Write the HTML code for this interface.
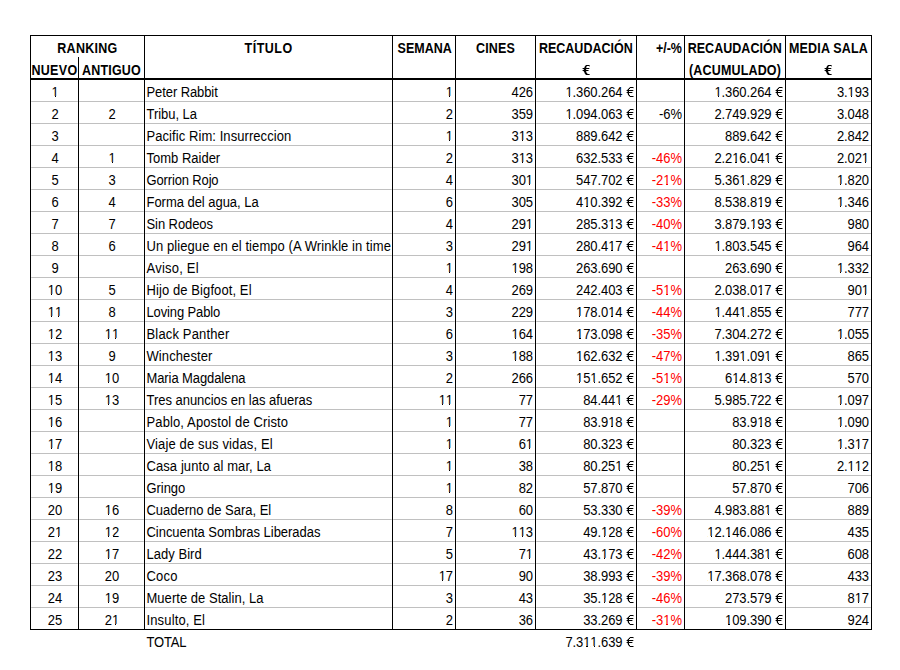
<!DOCTYPE html>
<html><head><meta charset="utf-8"><style>
html,body{margin:0;padding:0;background:#fff;width:900px;height:670px;overflow:hidden}
body{position:relative;font-family:"Liberation Sans",sans-serif;font-size:13px;color:#000}
i{position:absolute;display:block}
i.e,i.eb{width:1px;height:1px;background:transparent}
i.e{box-shadow:3px 0px rgba(0,0,0,0.35),4px 0px rgba(0,0,0,1),5px 0px rgba(0,0,0,1),6px 0px rgba(0,0,0,1),7px 0px rgba(0,0,0,0.5),2px 1px rgba(0,0,0,0.35),3px 1px rgba(0,0,0,1),7px 1px rgba(0,0,0,0.1),1px 2px rgba(0,0,0,0.3),2px 2px rgba(0,0,0,1),0px 3px rgba(0,0,0,0.4),1px 3px rgba(0,0,0,1),2px 3px rgba(0,0,0,1),3px 3px rgba(0,0,0,1),4px 3px rgba(0,0,0,1),5px 3px rgba(0,0,0,1),6px 3px rgba(0,0,0,1),7px 3px rgba(0,0,0,0.3),1px 4px rgba(0,0,0,0.4),2px 4px rgba(0,0,0,1),0px 5px rgba(0,0,0,0.4),1px 5px rgba(0,0,0,1),2px 5px rgba(0,0,0,1),3px 5px rgba(0,0,0,1),4px 5px rgba(0,0,0,1),5px 5px rgba(0,0,0,1),6px 5px rgba(0,0,0,0.4),1px 6px rgba(0,0,0,0.3),2px 6px rgba(0,0,0,1),1px 7px rgba(0,0,0,0.1),2px 7px rgba(0,0,0,1),3px 7px rgba(0,0,0,0.2),2px 8px rgba(0,0,0,0.4),3px 8px rgba(0,0,0,1),3px 9px rgba(0,0,0,0.4),4px 9px rgba(0,0,0,1),5px 9px rgba(0,0,0,1),6px 9px rgba(0,0,0,1),7px 9px rgba(0,0,0,0.5)}
i.eb{box-shadow:3px 0px rgba(0,0,0,0.4),4px 0px rgba(0,0,0,1),5px 0px rgba(0,0,0,1),6px 0px rgba(0,0,0,1),7px 0px rgba(0,0,0,0.6),2px 1px rgba(0,0,0,0.2),3px 1px rgba(0,0,0,1),4px 1px rgba(0,0,0,0.6),7px 1px rgba(0,0,0,0.3),2px 2px rgba(0,0,0,0.6),3px 2px rgba(0,0,0,1),4px 2px rgba(0,0,0,0.3),0px 3px rgba(0,0,0,0.4),1px 3px rgba(0,0,0,1),2px 3px rgba(0,0,0,1),3px 3px rgba(0,0,0,1),4px 3px rgba(0,0,0,1),5px 3px rgba(0,0,0,1),6px 3px rgba(0,0,0,1),7px 3px rgba(0,0,0,0.3),1px 4px rgba(0,0,0,0.2),2px 4px rgba(0,0,0,1),3px 4px rgba(0,0,0,1),4px 4px rgba(0,0,0,0.2),0px 5px rgba(0,0,0,0.4),1px 5px rgba(0,0,0,1),2px 5px rgba(0,0,0,1),3px 5px rgba(0,0,0,1),4px 5px rgba(0,0,0,1),5px 5px rgba(0,0,0,1),6px 5px rgba(0,0,0,0.5),1px 6px rgba(0,0,0,0.2),2px 6px rgba(0,0,0,1),3px 6px rgba(0,0,0,1),4px 6px rgba(0,0,0,0.2),2px 7px rgba(0,0,0,0.6),3px 7px rgba(0,0,0,1),4px 7px rgba(0,0,0,0.5),2px 8px rgba(0,0,0,0.2),3px 8px rgba(0,0,0,1),4px 8px rgba(0,0,0,1),5px 8px rgba(0,0,0,0.3),3px 9px rgba(0,0,0,0.4),4px 9px rgba(0,0,0,1),5px 9px rgba(0,0,0,1),6px 9px rgba(0,0,0,1),7px 9px rgba(0,0,0,0.6)}
b{position:relative;font-weight:normal}
b::before,b::after{content:'';position:absolute;background:#fff;height:1.6px;bottom:2.3px}
b::before{left:0.3px;width:2.97px}
b::after{left:4.42px;width:3.5px}
div{position:absolute;height:22px;line-height:22px;white-space:nowrap;transform:scaleY(1.08);transform-origin:0 15px}
</style></head><body>
<i style="left:31px;top:101px;width:840px;height:1px;background:#c0c0c0"></i>
<i style="left:31px;top:101px;width:1px;height:1px;background:#cdcdcd"></i>
<i style="left:77px;top:101px;width:1px;height:1px;background:#cdcdcd"></i>
<i style="left:79px;top:101px;width:1px;height:1px;background:#cdcdcd"></i>
<i style="left:143px;top:101px;width:1px;height:1px;background:#cdcdcd"></i>
<i style="left:145px;top:101px;width:1px;height:1px;background:#cdcdcd"></i>
<i style="left:391px;top:101px;width:1px;height:1px;background:#cdcdcd"></i>
<i style="left:393px;top:101px;width:1px;height:1px;background:#cdcdcd"></i>
<i style="left:454px;top:101px;width:1px;height:1px;background:#cdcdcd"></i>
<i style="left:456px;top:101px;width:1px;height:1px;background:#cdcdcd"></i>
<i style="left:534px;top:101px;width:1px;height:1px;background:#cdcdcd"></i>
<i style="left:536px;top:101px;width:1px;height:1px;background:#cdcdcd"></i>
<i style="left:635px;top:101px;width:1px;height:1px;background:#cdcdcd"></i>
<i style="left:637px;top:101px;width:1px;height:1px;background:#cdcdcd"></i>
<i style="left:683px;top:101px;width:1px;height:1px;background:#cdcdcd"></i>
<i style="left:685px;top:101px;width:1px;height:1px;background:#cdcdcd"></i>
<i style="left:784px;top:101px;width:1px;height:1px;background:#cdcdcd"></i>
<i style="left:786px;top:101px;width:1px;height:1px;background:#cdcdcd"></i>
<i style="left:870px;top:101px;width:1px;height:1px;background:#cdcdcd"></i>
<i style="left:31px;top:123px;width:840px;height:1px;background:#c0c0c0"></i>
<i style="left:31px;top:123px;width:1px;height:1px;background:#cdcdcd"></i>
<i style="left:77px;top:123px;width:1px;height:1px;background:#cdcdcd"></i>
<i style="left:79px;top:123px;width:1px;height:1px;background:#cdcdcd"></i>
<i style="left:143px;top:123px;width:1px;height:1px;background:#cdcdcd"></i>
<i style="left:145px;top:123px;width:1px;height:1px;background:#cdcdcd"></i>
<i style="left:391px;top:123px;width:1px;height:1px;background:#cdcdcd"></i>
<i style="left:393px;top:123px;width:1px;height:1px;background:#cdcdcd"></i>
<i style="left:454px;top:123px;width:1px;height:1px;background:#cdcdcd"></i>
<i style="left:456px;top:123px;width:1px;height:1px;background:#cdcdcd"></i>
<i style="left:534px;top:123px;width:1px;height:1px;background:#cdcdcd"></i>
<i style="left:536px;top:123px;width:1px;height:1px;background:#cdcdcd"></i>
<i style="left:635px;top:123px;width:1px;height:1px;background:#cdcdcd"></i>
<i style="left:637px;top:123px;width:1px;height:1px;background:#cdcdcd"></i>
<i style="left:683px;top:123px;width:1px;height:1px;background:#cdcdcd"></i>
<i style="left:685px;top:123px;width:1px;height:1px;background:#cdcdcd"></i>
<i style="left:784px;top:123px;width:1px;height:1px;background:#cdcdcd"></i>
<i style="left:786px;top:123px;width:1px;height:1px;background:#cdcdcd"></i>
<i style="left:870px;top:123px;width:1px;height:1px;background:#cdcdcd"></i>
<i style="left:31px;top:145px;width:840px;height:1px;background:#c0c0c0"></i>
<i style="left:31px;top:145px;width:1px;height:1px;background:#cdcdcd"></i>
<i style="left:77px;top:145px;width:1px;height:1px;background:#cdcdcd"></i>
<i style="left:79px;top:145px;width:1px;height:1px;background:#cdcdcd"></i>
<i style="left:143px;top:145px;width:1px;height:1px;background:#cdcdcd"></i>
<i style="left:145px;top:145px;width:1px;height:1px;background:#cdcdcd"></i>
<i style="left:391px;top:145px;width:1px;height:1px;background:#cdcdcd"></i>
<i style="left:393px;top:145px;width:1px;height:1px;background:#cdcdcd"></i>
<i style="left:454px;top:145px;width:1px;height:1px;background:#cdcdcd"></i>
<i style="left:456px;top:145px;width:1px;height:1px;background:#cdcdcd"></i>
<i style="left:534px;top:145px;width:1px;height:1px;background:#cdcdcd"></i>
<i style="left:536px;top:145px;width:1px;height:1px;background:#cdcdcd"></i>
<i style="left:635px;top:145px;width:1px;height:1px;background:#cdcdcd"></i>
<i style="left:637px;top:145px;width:1px;height:1px;background:#cdcdcd"></i>
<i style="left:683px;top:145px;width:1px;height:1px;background:#cdcdcd"></i>
<i style="left:685px;top:145px;width:1px;height:1px;background:#cdcdcd"></i>
<i style="left:784px;top:145px;width:1px;height:1px;background:#cdcdcd"></i>
<i style="left:786px;top:145px;width:1px;height:1px;background:#cdcdcd"></i>
<i style="left:870px;top:145px;width:1px;height:1px;background:#cdcdcd"></i>
<i style="left:31px;top:167px;width:840px;height:1px;background:#c0c0c0"></i>
<i style="left:31px;top:167px;width:1px;height:1px;background:#cdcdcd"></i>
<i style="left:77px;top:167px;width:1px;height:1px;background:#cdcdcd"></i>
<i style="left:79px;top:167px;width:1px;height:1px;background:#cdcdcd"></i>
<i style="left:143px;top:167px;width:1px;height:1px;background:#cdcdcd"></i>
<i style="left:145px;top:167px;width:1px;height:1px;background:#cdcdcd"></i>
<i style="left:391px;top:167px;width:1px;height:1px;background:#cdcdcd"></i>
<i style="left:393px;top:167px;width:1px;height:1px;background:#cdcdcd"></i>
<i style="left:454px;top:167px;width:1px;height:1px;background:#cdcdcd"></i>
<i style="left:456px;top:167px;width:1px;height:1px;background:#cdcdcd"></i>
<i style="left:534px;top:167px;width:1px;height:1px;background:#cdcdcd"></i>
<i style="left:536px;top:167px;width:1px;height:1px;background:#cdcdcd"></i>
<i style="left:635px;top:167px;width:1px;height:1px;background:#cdcdcd"></i>
<i style="left:637px;top:167px;width:1px;height:1px;background:#cdcdcd"></i>
<i style="left:683px;top:167px;width:1px;height:1px;background:#cdcdcd"></i>
<i style="left:685px;top:167px;width:1px;height:1px;background:#cdcdcd"></i>
<i style="left:784px;top:167px;width:1px;height:1px;background:#cdcdcd"></i>
<i style="left:786px;top:167px;width:1px;height:1px;background:#cdcdcd"></i>
<i style="left:870px;top:167px;width:1px;height:1px;background:#cdcdcd"></i>
<i style="left:31px;top:189px;width:840px;height:1px;background:#c0c0c0"></i>
<i style="left:31px;top:189px;width:1px;height:1px;background:#cdcdcd"></i>
<i style="left:77px;top:189px;width:1px;height:1px;background:#cdcdcd"></i>
<i style="left:79px;top:189px;width:1px;height:1px;background:#cdcdcd"></i>
<i style="left:143px;top:189px;width:1px;height:1px;background:#cdcdcd"></i>
<i style="left:145px;top:189px;width:1px;height:1px;background:#cdcdcd"></i>
<i style="left:391px;top:189px;width:1px;height:1px;background:#cdcdcd"></i>
<i style="left:393px;top:189px;width:1px;height:1px;background:#cdcdcd"></i>
<i style="left:454px;top:189px;width:1px;height:1px;background:#cdcdcd"></i>
<i style="left:456px;top:189px;width:1px;height:1px;background:#cdcdcd"></i>
<i style="left:534px;top:189px;width:1px;height:1px;background:#cdcdcd"></i>
<i style="left:536px;top:189px;width:1px;height:1px;background:#cdcdcd"></i>
<i style="left:635px;top:189px;width:1px;height:1px;background:#cdcdcd"></i>
<i style="left:637px;top:189px;width:1px;height:1px;background:#cdcdcd"></i>
<i style="left:683px;top:189px;width:1px;height:1px;background:#cdcdcd"></i>
<i style="left:685px;top:189px;width:1px;height:1px;background:#cdcdcd"></i>
<i style="left:784px;top:189px;width:1px;height:1px;background:#cdcdcd"></i>
<i style="left:786px;top:189px;width:1px;height:1px;background:#cdcdcd"></i>
<i style="left:870px;top:189px;width:1px;height:1px;background:#cdcdcd"></i>
<i style="left:31px;top:211px;width:840px;height:1px;background:#c0c0c0"></i>
<i style="left:31px;top:211px;width:1px;height:1px;background:#cdcdcd"></i>
<i style="left:77px;top:211px;width:1px;height:1px;background:#cdcdcd"></i>
<i style="left:79px;top:211px;width:1px;height:1px;background:#cdcdcd"></i>
<i style="left:143px;top:211px;width:1px;height:1px;background:#cdcdcd"></i>
<i style="left:145px;top:211px;width:1px;height:1px;background:#cdcdcd"></i>
<i style="left:391px;top:211px;width:1px;height:1px;background:#cdcdcd"></i>
<i style="left:393px;top:211px;width:1px;height:1px;background:#cdcdcd"></i>
<i style="left:454px;top:211px;width:1px;height:1px;background:#cdcdcd"></i>
<i style="left:456px;top:211px;width:1px;height:1px;background:#cdcdcd"></i>
<i style="left:534px;top:211px;width:1px;height:1px;background:#cdcdcd"></i>
<i style="left:536px;top:211px;width:1px;height:1px;background:#cdcdcd"></i>
<i style="left:635px;top:211px;width:1px;height:1px;background:#cdcdcd"></i>
<i style="left:637px;top:211px;width:1px;height:1px;background:#cdcdcd"></i>
<i style="left:683px;top:211px;width:1px;height:1px;background:#cdcdcd"></i>
<i style="left:685px;top:211px;width:1px;height:1px;background:#cdcdcd"></i>
<i style="left:784px;top:211px;width:1px;height:1px;background:#cdcdcd"></i>
<i style="left:786px;top:211px;width:1px;height:1px;background:#cdcdcd"></i>
<i style="left:870px;top:211px;width:1px;height:1px;background:#cdcdcd"></i>
<i style="left:31px;top:233px;width:840px;height:1px;background:#c0c0c0"></i>
<i style="left:31px;top:233px;width:1px;height:1px;background:#cdcdcd"></i>
<i style="left:77px;top:233px;width:1px;height:1px;background:#cdcdcd"></i>
<i style="left:79px;top:233px;width:1px;height:1px;background:#cdcdcd"></i>
<i style="left:143px;top:233px;width:1px;height:1px;background:#cdcdcd"></i>
<i style="left:145px;top:233px;width:1px;height:1px;background:#cdcdcd"></i>
<i style="left:391px;top:233px;width:1px;height:1px;background:#cdcdcd"></i>
<i style="left:393px;top:233px;width:1px;height:1px;background:#cdcdcd"></i>
<i style="left:454px;top:233px;width:1px;height:1px;background:#cdcdcd"></i>
<i style="left:456px;top:233px;width:1px;height:1px;background:#cdcdcd"></i>
<i style="left:534px;top:233px;width:1px;height:1px;background:#cdcdcd"></i>
<i style="left:536px;top:233px;width:1px;height:1px;background:#cdcdcd"></i>
<i style="left:635px;top:233px;width:1px;height:1px;background:#cdcdcd"></i>
<i style="left:637px;top:233px;width:1px;height:1px;background:#cdcdcd"></i>
<i style="left:683px;top:233px;width:1px;height:1px;background:#cdcdcd"></i>
<i style="left:685px;top:233px;width:1px;height:1px;background:#cdcdcd"></i>
<i style="left:784px;top:233px;width:1px;height:1px;background:#cdcdcd"></i>
<i style="left:786px;top:233px;width:1px;height:1px;background:#cdcdcd"></i>
<i style="left:870px;top:233px;width:1px;height:1px;background:#cdcdcd"></i>
<i style="left:31px;top:255px;width:840px;height:1px;background:#c0c0c0"></i>
<i style="left:31px;top:255px;width:1px;height:1px;background:#cdcdcd"></i>
<i style="left:77px;top:255px;width:1px;height:1px;background:#cdcdcd"></i>
<i style="left:79px;top:255px;width:1px;height:1px;background:#cdcdcd"></i>
<i style="left:143px;top:255px;width:1px;height:1px;background:#cdcdcd"></i>
<i style="left:145px;top:255px;width:1px;height:1px;background:#cdcdcd"></i>
<i style="left:391px;top:255px;width:1px;height:1px;background:#cdcdcd"></i>
<i style="left:393px;top:255px;width:1px;height:1px;background:#cdcdcd"></i>
<i style="left:454px;top:255px;width:1px;height:1px;background:#cdcdcd"></i>
<i style="left:456px;top:255px;width:1px;height:1px;background:#cdcdcd"></i>
<i style="left:534px;top:255px;width:1px;height:1px;background:#cdcdcd"></i>
<i style="left:536px;top:255px;width:1px;height:1px;background:#cdcdcd"></i>
<i style="left:635px;top:255px;width:1px;height:1px;background:#cdcdcd"></i>
<i style="left:637px;top:255px;width:1px;height:1px;background:#cdcdcd"></i>
<i style="left:683px;top:255px;width:1px;height:1px;background:#cdcdcd"></i>
<i style="left:685px;top:255px;width:1px;height:1px;background:#cdcdcd"></i>
<i style="left:784px;top:255px;width:1px;height:1px;background:#cdcdcd"></i>
<i style="left:786px;top:255px;width:1px;height:1px;background:#cdcdcd"></i>
<i style="left:870px;top:255px;width:1px;height:1px;background:#cdcdcd"></i>
<i style="left:31px;top:277px;width:840px;height:1px;background:#c0c0c0"></i>
<i style="left:31px;top:277px;width:1px;height:1px;background:#cdcdcd"></i>
<i style="left:77px;top:277px;width:1px;height:1px;background:#cdcdcd"></i>
<i style="left:79px;top:277px;width:1px;height:1px;background:#cdcdcd"></i>
<i style="left:143px;top:277px;width:1px;height:1px;background:#cdcdcd"></i>
<i style="left:145px;top:277px;width:1px;height:1px;background:#cdcdcd"></i>
<i style="left:391px;top:277px;width:1px;height:1px;background:#cdcdcd"></i>
<i style="left:393px;top:277px;width:1px;height:1px;background:#cdcdcd"></i>
<i style="left:454px;top:277px;width:1px;height:1px;background:#cdcdcd"></i>
<i style="left:456px;top:277px;width:1px;height:1px;background:#cdcdcd"></i>
<i style="left:534px;top:277px;width:1px;height:1px;background:#cdcdcd"></i>
<i style="left:536px;top:277px;width:1px;height:1px;background:#cdcdcd"></i>
<i style="left:635px;top:277px;width:1px;height:1px;background:#cdcdcd"></i>
<i style="left:637px;top:277px;width:1px;height:1px;background:#cdcdcd"></i>
<i style="left:683px;top:277px;width:1px;height:1px;background:#cdcdcd"></i>
<i style="left:685px;top:277px;width:1px;height:1px;background:#cdcdcd"></i>
<i style="left:784px;top:277px;width:1px;height:1px;background:#cdcdcd"></i>
<i style="left:786px;top:277px;width:1px;height:1px;background:#cdcdcd"></i>
<i style="left:870px;top:277px;width:1px;height:1px;background:#cdcdcd"></i>
<i style="left:31px;top:299px;width:840px;height:1px;background:#c0c0c0"></i>
<i style="left:31px;top:299px;width:1px;height:1px;background:#cdcdcd"></i>
<i style="left:77px;top:299px;width:1px;height:1px;background:#cdcdcd"></i>
<i style="left:79px;top:299px;width:1px;height:1px;background:#cdcdcd"></i>
<i style="left:143px;top:299px;width:1px;height:1px;background:#cdcdcd"></i>
<i style="left:145px;top:299px;width:1px;height:1px;background:#cdcdcd"></i>
<i style="left:391px;top:299px;width:1px;height:1px;background:#cdcdcd"></i>
<i style="left:393px;top:299px;width:1px;height:1px;background:#cdcdcd"></i>
<i style="left:454px;top:299px;width:1px;height:1px;background:#cdcdcd"></i>
<i style="left:456px;top:299px;width:1px;height:1px;background:#cdcdcd"></i>
<i style="left:534px;top:299px;width:1px;height:1px;background:#cdcdcd"></i>
<i style="left:536px;top:299px;width:1px;height:1px;background:#cdcdcd"></i>
<i style="left:635px;top:299px;width:1px;height:1px;background:#cdcdcd"></i>
<i style="left:637px;top:299px;width:1px;height:1px;background:#cdcdcd"></i>
<i style="left:683px;top:299px;width:1px;height:1px;background:#cdcdcd"></i>
<i style="left:685px;top:299px;width:1px;height:1px;background:#cdcdcd"></i>
<i style="left:784px;top:299px;width:1px;height:1px;background:#cdcdcd"></i>
<i style="left:786px;top:299px;width:1px;height:1px;background:#cdcdcd"></i>
<i style="left:870px;top:299px;width:1px;height:1px;background:#cdcdcd"></i>
<i style="left:31px;top:321px;width:840px;height:1px;background:#c0c0c0"></i>
<i style="left:31px;top:321px;width:1px;height:1px;background:#cdcdcd"></i>
<i style="left:77px;top:321px;width:1px;height:1px;background:#cdcdcd"></i>
<i style="left:79px;top:321px;width:1px;height:1px;background:#cdcdcd"></i>
<i style="left:143px;top:321px;width:1px;height:1px;background:#cdcdcd"></i>
<i style="left:145px;top:321px;width:1px;height:1px;background:#cdcdcd"></i>
<i style="left:391px;top:321px;width:1px;height:1px;background:#cdcdcd"></i>
<i style="left:393px;top:321px;width:1px;height:1px;background:#cdcdcd"></i>
<i style="left:454px;top:321px;width:1px;height:1px;background:#cdcdcd"></i>
<i style="left:456px;top:321px;width:1px;height:1px;background:#cdcdcd"></i>
<i style="left:534px;top:321px;width:1px;height:1px;background:#cdcdcd"></i>
<i style="left:536px;top:321px;width:1px;height:1px;background:#cdcdcd"></i>
<i style="left:635px;top:321px;width:1px;height:1px;background:#cdcdcd"></i>
<i style="left:637px;top:321px;width:1px;height:1px;background:#cdcdcd"></i>
<i style="left:683px;top:321px;width:1px;height:1px;background:#cdcdcd"></i>
<i style="left:685px;top:321px;width:1px;height:1px;background:#cdcdcd"></i>
<i style="left:784px;top:321px;width:1px;height:1px;background:#cdcdcd"></i>
<i style="left:786px;top:321px;width:1px;height:1px;background:#cdcdcd"></i>
<i style="left:870px;top:321px;width:1px;height:1px;background:#cdcdcd"></i>
<i style="left:31px;top:343px;width:840px;height:1px;background:#c0c0c0"></i>
<i style="left:31px;top:343px;width:1px;height:1px;background:#cdcdcd"></i>
<i style="left:77px;top:343px;width:1px;height:1px;background:#cdcdcd"></i>
<i style="left:79px;top:343px;width:1px;height:1px;background:#cdcdcd"></i>
<i style="left:143px;top:343px;width:1px;height:1px;background:#cdcdcd"></i>
<i style="left:145px;top:343px;width:1px;height:1px;background:#cdcdcd"></i>
<i style="left:391px;top:343px;width:1px;height:1px;background:#cdcdcd"></i>
<i style="left:393px;top:343px;width:1px;height:1px;background:#cdcdcd"></i>
<i style="left:454px;top:343px;width:1px;height:1px;background:#cdcdcd"></i>
<i style="left:456px;top:343px;width:1px;height:1px;background:#cdcdcd"></i>
<i style="left:534px;top:343px;width:1px;height:1px;background:#cdcdcd"></i>
<i style="left:536px;top:343px;width:1px;height:1px;background:#cdcdcd"></i>
<i style="left:635px;top:343px;width:1px;height:1px;background:#cdcdcd"></i>
<i style="left:637px;top:343px;width:1px;height:1px;background:#cdcdcd"></i>
<i style="left:683px;top:343px;width:1px;height:1px;background:#cdcdcd"></i>
<i style="left:685px;top:343px;width:1px;height:1px;background:#cdcdcd"></i>
<i style="left:784px;top:343px;width:1px;height:1px;background:#cdcdcd"></i>
<i style="left:786px;top:343px;width:1px;height:1px;background:#cdcdcd"></i>
<i style="left:870px;top:343px;width:1px;height:1px;background:#cdcdcd"></i>
<i style="left:31px;top:365px;width:840px;height:1px;background:#c0c0c0"></i>
<i style="left:31px;top:365px;width:1px;height:1px;background:#cdcdcd"></i>
<i style="left:77px;top:365px;width:1px;height:1px;background:#cdcdcd"></i>
<i style="left:79px;top:365px;width:1px;height:1px;background:#cdcdcd"></i>
<i style="left:143px;top:365px;width:1px;height:1px;background:#cdcdcd"></i>
<i style="left:145px;top:365px;width:1px;height:1px;background:#cdcdcd"></i>
<i style="left:391px;top:365px;width:1px;height:1px;background:#cdcdcd"></i>
<i style="left:393px;top:365px;width:1px;height:1px;background:#cdcdcd"></i>
<i style="left:454px;top:365px;width:1px;height:1px;background:#cdcdcd"></i>
<i style="left:456px;top:365px;width:1px;height:1px;background:#cdcdcd"></i>
<i style="left:534px;top:365px;width:1px;height:1px;background:#cdcdcd"></i>
<i style="left:536px;top:365px;width:1px;height:1px;background:#cdcdcd"></i>
<i style="left:635px;top:365px;width:1px;height:1px;background:#cdcdcd"></i>
<i style="left:637px;top:365px;width:1px;height:1px;background:#cdcdcd"></i>
<i style="left:683px;top:365px;width:1px;height:1px;background:#cdcdcd"></i>
<i style="left:685px;top:365px;width:1px;height:1px;background:#cdcdcd"></i>
<i style="left:784px;top:365px;width:1px;height:1px;background:#cdcdcd"></i>
<i style="left:786px;top:365px;width:1px;height:1px;background:#cdcdcd"></i>
<i style="left:870px;top:365px;width:1px;height:1px;background:#cdcdcd"></i>
<i style="left:31px;top:387px;width:840px;height:1px;background:#c0c0c0"></i>
<i style="left:31px;top:387px;width:1px;height:1px;background:#cdcdcd"></i>
<i style="left:77px;top:387px;width:1px;height:1px;background:#cdcdcd"></i>
<i style="left:79px;top:387px;width:1px;height:1px;background:#cdcdcd"></i>
<i style="left:143px;top:387px;width:1px;height:1px;background:#cdcdcd"></i>
<i style="left:145px;top:387px;width:1px;height:1px;background:#cdcdcd"></i>
<i style="left:391px;top:387px;width:1px;height:1px;background:#cdcdcd"></i>
<i style="left:393px;top:387px;width:1px;height:1px;background:#cdcdcd"></i>
<i style="left:454px;top:387px;width:1px;height:1px;background:#cdcdcd"></i>
<i style="left:456px;top:387px;width:1px;height:1px;background:#cdcdcd"></i>
<i style="left:534px;top:387px;width:1px;height:1px;background:#cdcdcd"></i>
<i style="left:536px;top:387px;width:1px;height:1px;background:#cdcdcd"></i>
<i style="left:635px;top:387px;width:1px;height:1px;background:#cdcdcd"></i>
<i style="left:637px;top:387px;width:1px;height:1px;background:#cdcdcd"></i>
<i style="left:683px;top:387px;width:1px;height:1px;background:#cdcdcd"></i>
<i style="left:685px;top:387px;width:1px;height:1px;background:#cdcdcd"></i>
<i style="left:784px;top:387px;width:1px;height:1px;background:#cdcdcd"></i>
<i style="left:786px;top:387px;width:1px;height:1px;background:#cdcdcd"></i>
<i style="left:870px;top:387px;width:1px;height:1px;background:#cdcdcd"></i>
<i style="left:31px;top:409px;width:840px;height:1px;background:#c0c0c0"></i>
<i style="left:31px;top:409px;width:1px;height:1px;background:#cdcdcd"></i>
<i style="left:77px;top:409px;width:1px;height:1px;background:#cdcdcd"></i>
<i style="left:79px;top:409px;width:1px;height:1px;background:#cdcdcd"></i>
<i style="left:143px;top:409px;width:1px;height:1px;background:#cdcdcd"></i>
<i style="left:145px;top:409px;width:1px;height:1px;background:#cdcdcd"></i>
<i style="left:391px;top:409px;width:1px;height:1px;background:#cdcdcd"></i>
<i style="left:393px;top:409px;width:1px;height:1px;background:#cdcdcd"></i>
<i style="left:454px;top:409px;width:1px;height:1px;background:#cdcdcd"></i>
<i style="left:456px;top:409px;width:1px;height:1px;background:#cdcdcd"></i>
<i style="left:534px;top:409px;width:1px;height:1px;background:#cdcdcd"></i>
<i style="left:536px;top:409px;width:1px;height:1px;background:#cdcdcd"></i>
<i style="left:635px;top:409px;width:1px;height:1px;background:#cdcdcd"></i>
<i style="left:637px;top:409px;width:1px;height:1px;background:#cdcdcd"></i>
<i style="left:683px;top:409px;width:1px;height:1px;background:#cdcdcd"></i>
<i style="left:685px;top:409px;width:1px;height:1px;background:#cdcdcd"></i>
<i style="left:784px;top:409px;width:1px;height:1px;background:#cdcdcd"></i>
<i style="left:786px;top:409px;width:1px;height:1px;background:#cdcdcd"></i>
<i style="left:870px;top:409px;width:1px;height:1px;background:#cdcdcd"></i>
<i style="left:31px;top:431px;width:840px;height:1px;background:#c0c0c0"></i>
<i style="left:31px;top:431px;width:1px;height:1px;background:#cdcdcd"></i>
<i style="left:77px;top:431px;width:1px;height:1px;background:#cdcdcd"></i>
<i style="left:79px;top:431px;width:1px;height:1px;background:#cdcdcd"></i>
<i style="left:143px;top:431px;width:1px;height:1px;background:#cdcdcd"></i>
<i style="left:145px;top:431px;width:1px;height:1px;background:#cdcdcd"></i>
<i style="left:391px;top:431px;width:1px;height:1px;background:#cdcdcd"></i>
<i style="left:393px;top:431px;width:1px;height:1px;background:#cdcdcd"></i>
<i style="left:454px;top:431px;width:1px;height:1px;background:#cdcdcd"></i>
<i style="left:456px;top:431px;width:1px;height:1px;background:#cdcdcd"></i>
<i style="left:534px;top:431px;width:1px;height:1px;background:#cdcdcd"></i>
<i style="left:536px;top:431px;width:1px;height:1px;background:#cdcdcd"></i>
<i style="left:635px;top:431px;width:1px;height:1px;background:#cdcdcd"></i>
<i style="left:637px;top:431px;width:1px;height:1px;background:#cdcdcd"></i>
<i style="left:683px;top:431px;width:1px;height:1px;background:#cdcdcd"></i>
<i style="left:685px;top:431px;width:1px;height:1px;background:#cdcdcd"></i>
<i style="left:784px;top:431px;width:1px;height:1px;background:#cdcdcd"></i>
<i style="left:786px;top:431px;width:1px;height:1px;background:#cdcdcd"></i>
<i style="left:870px;top:431px;width:1px;height:1px;background:#cdcdcd"></i>
<i style="left:31px;top:453px;width:840px;height:1px;background:#c0c0c0"></i>
<i style="left:31px;top:453px;width:1px;height:1px;background:#cdcdcd"></i>
<i style="left:77px;top:453px;width:1px;height:1px;background:#cdcdcd"></i>
<i style="left:79px;top:453px;width:1px;height:1px;background:#cdcdcd"></i>
<i style="left:143px;top:453px;width:1px;height:1px;background:#cdcdcd"></i>
<i style="left:145px;top:453px;width:1px;height:1px;background:#cdcdcd"></i>
<i style="left:391px;top:453px;width:1px;height:1px;background:#cdcdcd"></i>
<i style="left:393px;top:453px;width:1px;height:1px;background:#cdcdcd"></i>
<i style="left:454px;top:453px;width:1px;height:1px;background:#cdcdcd"></i>
<i style="left:456px;top:453px;width:1px;height:1px;background:#cdcdcd"></i>
<i style="left:534px;top:453px;width:1px;height:1px;background:#cdcdcd"></i>
<i style="left:536px;top:453px;width:1px;height:1px;background:#cdcdcd"></i>
<i style="left:635px;top:453px;width:1px;height:1px;background:#cdcdcd"></i>
<i style="left:637px;top:453px;width:1px;height:1px;background:#cdcdcd"></i>
<i style="left:683px;top:453px;width:1px;height:1px;background:#cdcdcd"></i>
<i style="left:685px;top:453px;width:1px;height:1px;background:#cdcdcd"></i>
<i style="left:784px;top:453px;width:1px;height:1px;background:#cdcdcd"></i>
<i style="left:786px;top:453px;width:1px;height:1px;background:#cdcdcd"></i>
<i style="left:870px;top:453px;width:1px;height:1px;background:#cdcdcd"></i>
<i style="left:31px;top:475px;width:840px;height:1px;background:#c0c0c0"></i>
<i style="left:31px;top:475px;width:1px;height:1px;background:#cdcdcd"></i>
<i style="left:77px;top:475px;width:1px;height:1px;background:#cdcdcd"></i>
<i style="left:79px;top:475px;width:1px;height:1px;background:#cdcdcd"></i>
<i style="left:143px;top:475px;width:1px;height:1px;background:#cdcdcd"></i>
<i style="left:145px;top:475px;width:1px;height:1px;background:#cdcdcd"></i>
<i style="left:391px;top:475px;width:1px;height:1px;background:#cdcdcd"></i>
<i style="left:393px;top:475px;width:1px;height:1px;background:#cdcdcd"></i>
<i style="left:454px;top:475px;width:1px;height:1px;background:#cdcdcd"></i>
<i style="left:456px;top:475px;width:1px;height:1px;background:#cdcdcd"></i>
<i style="left:534px;top:475px;width:1px;height:1px;background:#cdcdcd"></i>
<i style="left:536px;top:475px;width:1px;height:1px;background:#cdcdcd"></i>
<i style="left:635px;top:475px;width:1px;height:1px;background:#cdcdcd"></i>
<i style="left:637px;top:475px;width:1px;height:1px;background:#cdcdcd"></i>
<i style="left:683px;top:475px;width:1px;height:1px;background:#cdcdcd"></i>
<i style="left:685px;top:475px;width:1px;height:1px;background:#cdcdcd"></i>
<i style="left:784px;top:475px;width:1px;height:1px;background:#cdcdcd"></i>
<i style="left:786px;top:475px;width:1px;height:1px;background:#cdcdcd"></i>
<i style="left:870px;top:475px;width:1px;height:1px;background:#cdcdcd"></i>
<i style="left:31px;top:497px;width:840px;height:1px;background:#c0c0c0"></i>
<i style="left:31px;top:497px;width:1px;height:1px;background:#cdcdcd"></i>
<i style="left:77px;top:497px;width:1px;height:1px;background:#cdcdcd"></i>
<i style="left:79px;top:497px;width:1px;height:1px;background:#cdcdcd"></i>
<i style="left:143px;top:497px;width:1px;height:1px;background:#cdcdcd"></i>
<i style="left:145px;top:497px;width:1px;height:1px;background:#cdcdcd"></i>
<i style="left:391px;top:497px;width:1px;height:1px;background:#cdcdcd"></i>
<i style="left:393px;top:497px;width:1px;height:1px;background:#cdcdcd"></i>
<i style="left:454px;top:497px;width:1px;height:1px;background:#cdcdcd"></i>
<i style="left:456px;top:497px;width:1px;height:1px;background:#cdcdcd"></i>
<i style="left:534px;top:497px;width:1px;height:1px;background:#cdcdcd"></i>
<i style="left:536px;top:497px;width:1px;height:1px;background:#cdcdcd"></i>
<i style="left:635px;top:497px;width:1px;height:1px;background:#cdcdcd"></i>
<i style="left:637px;top:497px;width:1px;height:1px;background:#cdcdcd"></i>
<i style="left:683px;top:497px;width:1px;height:1px;background:#cdcdcd"></i>
<i style="left:685px;top:497px;width:1px;height:1px;background:#cdcdcd"></i>
<i style="left:784px;top:497px;width:1px;height:1px;background:#cdcdcd"></i>
<i style="left:786px;top:497px;width:1px;height:1px;background:#cdcdcd"></i>
<i style="left:870px;top:497px;width:1px;height:1px;background:#cdcdcd"></i>
<i style="left:31px;top:519px;width:840px;height:1px;background:#c0c0c0"></i>
<i style="left:31px;top:519px;width:1px;height:1px;background:#cdcdcd"></i>
<i style="left:77px;top:519px;width:1px;height:1px;background:#cdcdcd"></i>
<i style="left:79px;top:519px;width:1px;height:1px;background:#cdcdcd"></i>
<i style="left:143px;top:519px;width:1px;height:1px;background:#cdcdcd"></i>
<i style="left:145px;top:519px;width:1px;height:1px;background:#cdcdcd"></i>
<i style="left:391px;top:519px;width:1px;height:1px;background:#cdcdcd"></i>
<i style="left:393px;top:519px;width:1px;height:1px;background:#cdcdcd"></i>
<i style="left:454px;top:519px;width:1px;height:1px;background:#cdcdcd"></i>
<i style="left:456px;top:519px;width:1px;height:1px;background:#cdcdcd"></i>
<i style="left:534px;top:519px;width:1px;height:1px;background:#cdcdcd"></i>
<i style="left:536px;top:519px;width:1px;height:1px;background:#cdcdcd"></i>
<i style="left:635px;top:519px;width:1px;height:1px;background:#cdcdcd"></i>
<i style="left:637px;top:519px;width:1px;height:1px;background:#cdcdcd"></i>
<i style="left:683px;top:519px;width:1px;height:1px;background:#cdcdcd"></i>
<i style="left:685px;top:519px;width:1px;height:1px;background:#cdcdcd"></i>
<i style="left:784px;top:519px;width:1px;height:1px;background:#cdcdcd"></i>
<i style="left:786px;top:519px;width:1px;height:1px;background:#cdcdcd"></i>
<i style="left:870px;top:519px;width:1px;height:1px;background:#cdcdcd"></i>
<i style="left:31px;top:541px;width:840px;height:1px;background:#c0c0c0"></i>
<i style="left:31px;top:541px;width:1px;height:1px;background:#cdcdcd"></i>
<i style="left:77px;top:541px;width:1px;height:1px;background:#cdcdcd"></i>
<i style="left:79px;top:541px;width:1px;height:1px;background:#cdcdcd"></i>
<i style="left:143px;top:541px;width:1px;height:1px;background:#cdcdcd"></i>
<i style="left:145px;top:541px;width:1px;height:1px;background:#cdcdcd"></i>
<i style="left:391px;top:541px;width:1px;height:1px;background:#cdcdcd"></i>
<i style="left:393px;top:541px;width:1px;height:1px;background:#cdcdcd"></i>
<i style="left:454px;top:541px;width:1px;height:1px;background:#cdcdcd"></i>
<i style="left:456px;top:541px;width:1px;height:1px;background:#cdcdcd"></i>
<i style="left:534px;top:541px;width:1px;height:1px;background:#cdcdcd"></i>
<i style="left:536px;top:541px;width:1px;height:1px;background:#cdcdcd"></i>
<i style="left:635px;top:541px;width:1px;height:1px;background:#cdcdcd"></i>
<i style="left:637px;top:541px;width:1px;height:1px;background:#cdcdcd"></i>
<i style="left:683px;top:541px;width:1px;height:1px;background:#cdcdcd"></i>
<i style="left:685px;top:541px;width:1px;height:1px;background:#cdcdcd"></i>
<i style="left:784px;top:541px;width:1px;height:1px;background:#cdcdcd"></i>
<i style="left:786px;top:541px;width:1px;height:1px;background:#cdcdcd"></i>
<i style="left:870px;top:541px;width:1px;height:1px;background:#cdcdcd"></i>
<i style="left:31px;top:563px;width:840px;height:1px;background:#c0c0c0"></i>
<i style="left:31px;top:563px;width:1px;height:1px;background:#cdcdcd"></i>
<i style="left:77px;top:563px;width:1px;height:1px;background:#cdcdcd"></i>
<i style="left:79px;top:563px;width:1px;height:1px;background:#cdcdcd"></i>
<i style="left:143px;top:563px;width:1px;height:1px;background:#cdcdcd"></i>
<i style="left:145px;top:563px;width:1px;height:1px;background:#cdcdcd"></i>
<i style="left:391px;top:563px;width:1px;height:1px;background:#cdcdcd"></i>
<i style="left:393px;top:563px;width:1px;height:1px;background:#cdcdcd"></i>
<i style="left:454px;top:563px;width:1px;height:1px;background:#cdcdcd"></i>
<i style="left:456px;top:563px;width:1px;height:1px;background:#cdcdcd"></i>
<i style="left:534px;top:563px;width:1px;height:1px;background:#cdcdcd"></i>
<i style="left:536px;top:563px;width:1px;height:1px;background:#cdcdcd"></i>
<i style="left:635px;top:563px;width:1px;height:1px;background:#cdcdcd"></i>
<i style="left:637px;top:563px;width:1px;height:1px;background:#cdcdcd"></i>
<i style="left:683px;top:563px;width:1px;height:1px;background:#cdcdcd"></i>
<i style="left:685px;top:563px;width:1px;height:1px;background:#cdcdcd"></i>
<i style="left:784px;top:563px;width:1px;height:1px;background:#cdcdcd"></i>
<i style="left:786px;top:563px;width:1px;height:1px;background:#cdcdcd"></i>
<i style="left:870px;top:563px;width:1px;height:1px;background:#cdcdcd"></i>
<i style="left:31px;top:585px;width:840px;height:1px;background:#c0c0c0"></i>
<i style="left:31px;top:585px;width:1px;height:1px;background:#cdcdcd"></i>
<i style="left:77px;top:585px;width:1px;height:1px;background:#cdcdcd"></i>
<i style="left:79px;top:585px;width:1px;height:1px;background:#cdcdcd"></i>
<i style="left:143px;top:585px;width:1px;height:1px;background:#cdcdcd"></i>
<i style="left:145px;top:585px;width:1px;height:1px;background:#cdcdcd"></i>
<i style="left:391px;top:585px;width:1px;height:1px;background:#cdcdcd"></i>
<i style="left:393px;top:585px;width:1px;height:1px;background:#cdcdcd"></i>
<i style="left:454px;top:585px;width:1px;height:1px;background:#cdcdcd"></i>
<i style="left:456px;top:585px;width:1px;height:1px;background:#cdcdcd"></i>
<i style="left:534px;top:585px;width:1px;height:1px;background:#cdcdcd"></i>
<i style="left:536px;top:585px;width:1px;height:1px;background:#cdcdcd"></i>
<i style="left:635px;top:585px;width:1px;height:1px;background:#cdcdcd"></i>
<i style="left:637px;top:585px;width:1px;height:1px;background:#cdcdcd"></i>
<i style="left:683px;top:585px;width:1px;height:1px;background:#cdcdcd"></i>
<i style="left:685px;top:585px;width:1px;height:1px;background:#cdcdcd"></i>
<i style="left:784px;top:585px;width:1px;height:1px;background:#cdcdcd"></i>
<i style="left:786px;top:585px;width:1px;height:1px;background:#cdcdcd"></i>
<i style="left:870px;top:585px;width:1px;height:1px;background:#cdcdcd"></i>
<i style="left:31px;top:607px;width:840px;height:1px;background:#c0c0c0"></i>
<i style="left:31px;top:607px;width:1px;height:1px;background:#cdcdcd"></i>
<i style="left:77px;top:607px;width:1px;height:1px;background:#cdcdcd"></i>
<i style="left:79px;top:607px;width:1px;height:1px;background:#cdcdcd"></i>
<i style="left:143px;top:607px;width:1px;height:1px;background:#cdcdcd"></i>
<i style="left:145px;top:607px;width:1px;height:1px;background:#cdcdcd"></i>
<i style="left:391px;top:607px;width:1px;height:1px;background:#cdcdcd"></i>
<i style="left:393px;top:607px;width:1px;height:1px;background:#cdcdcd"></i>
<i style="left:454px;top:607px;width:1px;height:1px;background:#cdcdcd"></i>
<i style="left:456px;top:607px;width:1px;height:1px;background:#cdcdcd"></i>
<i style="left:534px;top:607px;width:1px;height:1px;background:#cdcdcd"></i>
<i style="left:536px;top:607px;width:1px;height:1px;background:#cdcdcd"></i>
<i style="left:635px;top:607px;width:1px;height:1px;background:#cdcdcd"></i>
<i style="left:637px;top:607px;width:1px;height:1px;background:#cdcdcd"></i>
<i style="left:683px;top:607px;width:1px;height:1px;background:#cdcdcd"></i>
<i style="left:685px;top:607px;width:1px;height:1px;background:#cdcdcd"></i>
<i style="left:784px;top:607px;width:1px;height:1px;background:#cdcdcd"></i>
<i style="left:786px;top:607px;width:1px;height:1px;background:#cdcdcd"></i>
<i style="left:870px;top:607px;width:1px;height:1px;background:#cdcdcd"></i>
<i style="left:30px;top:35px;width:842px;height:1px;background:#000"></i>
<i style="left:30px;top:78px;width:842px;height:2px;background:#000"></i>
<i style="left:30px;top:629px;width:842px;height:1px;background:#000"></i>
<i style="left:30px;top:35px;width:1px;height:595px;background:#000"></i>
<i style="left:78px;top:57px;width:1px;height:573px;background:#000"></i>
<i style="left:144px;top:35px;width:1px;height:595px;background:#000"></i>
<i style="left:392px;top:35px;width:1px;height:595px;background:#000"></i>
<i style="left:455px;top:35px;width:1px;height:595px;background:#000"></i>
<i style="left:535px;top:35px;width:1px;height:595px;background:#000"></i>
<i style="left:636px;top:35px;width:1px;height:595px;background:#000"></i>
<i style="left:684px;top:35px;width:1px;height:595px;background:#000"></i>
<i style="left:785px;top:35px;width:1px;height:595px;background:#000"></i>
<i style="left:871px;top:35px;width:1px;height:595px;background:#000"></i>
<i class="eb" style="left:582px;top:65px"></i>
<i class="eb" style="left:824px;top:65px"></i>
<div style="left:30.4px;width:114.0px;top:38px;text-align:center;font-weight:bold;font-size:12.5px;transform:scaleY(1.12);letter-spacing:0.253px;">RANKING</div>
<div style="left:30.44px;width:48.0px;top:60px;text-align:center;font-weight:bold;font-size:12.5px;transform:scaleY(1.12);letter-spacing:0.32px;">NUEVO</div>
<div style="left:78.48px;width:65.99999999999999px;top:60px;text-align:center;font-weight:bold;font-size:12.5px;transform:scaleY(1.12);letter-spacing:0.199px;">ANTIGUO</div>
<div style="left:144.64px;width:248.0px;top:38px;text-align:center;font-weight:bold;font-size:12.5px;transform:scaleY(1.12);letter-spacing:0.496px;">TÍTULO</div>
<div style="left:393.16px;width:63.0px;top:38px;text-align:center;font-weight:bold;font-size:12.5px;transform:scaleY(1.12);letter-spacing:0.0px;">SEMANA</div>
<div style="left:455.52px;width:80.0px;top:38px;text-align:center;font-weight:bold;font-size:12.5px;transform:scaleY(1.12);letter-spacing:0.2px;">CINES</div>
<div style="left:535.32px;width:101.0px;top:38px;text-align:center;font-weight:bold;font-size:12.5px;transform:scaleY(1.12);letter-spacing:0.008px;">RECAUDACIÓN</div>
<div style="left:635.92px;width:48.0px;top:38px;text-align:right;padding-right:2px;box-sizing:border-box;font-weight:bold;font-size:12.5px;transform:scaleY(1.12);letter-spacing:-0.054px;">+/-%</div>
<div style="left:684.24px;width:101.0px;top:38px;text-align:center;font-weight:bold;font-size:12.5px;transform:scaleY(1.12);letter-spacing:0.04px;">RECAUDACIÓN</div>
<div style="left:684.56px;width:101.0px;top:60px;text-align:center;font-weight:bold;font-size:12.5px;transform:scaleY(1.12);letter-spacing:0.168px;">(ACUMULADO)</div>
<div style="left:785.56px;width:86.0px;top:38px;text-align:center;font-weight:bold;font-size:12.5px;transform:scaleY(1.12);letter-spacing:0.169px;">MEDIA SALA</div>
<div style="left:31px;width:48px;top:82px;text-align:center;"><b>1</b></div>
<div style="left:144px;width:248px;top:82px;text-align:left;padding-left:2.5px;box-sizing:border-box;overflow:hidden;letter-spacing:-0.091px;">Peter Rabbit</div>
<div style="left:392px;width:63px;top:82px;text-align:right;padding-right:2px;box-sizing:border-box;letter-spacing:-0.1px;"><b>1</b></div>
<div style="left:455px;width:80px;top:82px;text-align:right;padding-right:2px;box-sizing:border-box;letter-spacing:-0.1px;">426</div>
<i class="e" style="left:626px;top:87px"></i>
<div style="left:535px;width:101px;top:82px;text-align:right;padding-right:13.6px;box-sizing:border-box;letter-spacing:-0.1px;"><b>1</b>.360.264</div>
<i class="e" style="left:775px;top:87px"></i>
<div style="left:684px;width:101px;top:82px;text-align:right;padding-right:13.6px;box-sizing:border-box;letter-spacing:-0.1px;"><b>1</b>.360.264</div>
<div style="left:785px;width:86px;top:82px;text-align:right;padding-right:2px;box-sizing:border-box;letter-spacing:-0.1px;">3.<b>1</b>93</div>
<div style="left:31px;width:48px;top:104px;text-align:center;">2</div>
<div style="left:79px;width:66px;top:104px;text-align:center;">2</div>
<div style="left:144px;width:248px;top:104px;text-align:left;padding-left:2.5px;box-sizing:border-box;overflow:hidden;letter-spacing:-0.037px;">Tribu, La</div>
<div style="left:392px;width:63px;top:104px;text-align:right;padding-right:2px;box-sizing:border-box;letter-spacing:-0.1px;">2</div>
<div style="left:455px;width:80px;top:104px;text-align:right;padding-right:2px;box-sizing:border-box;letter-spacing:-0.1px;">359</div>
<i class="e" style="left:626px;top:109px"></i>
<div style="left:535px;width:101px;top:104px;text-align:right;padding-right:13.6px;box-sizing:border-box;letter-spacing:-0.1px;"><b>1</b>.094.063</div>
<div style="left:636px;width:48px;top:104px;text-align:right;padding-right:2px;box-sizing:border-box;">-6%</div>
<i class="e" style="left:775px;top:109px"></i>
<div style="left:684px;width:101px;top:104px;text-align:right;padding-right:13.6px;box-sizing:border-box;letter-spacing:-0.1px;">2.749.929</div>
<div style="left:785px;width:86px;top:104px;text-align:right;padding-right:2px;box-sizing:border-box;letter-spacing:-0.1px;">3.048</div>
<div style="left:31px;width:48px;top:126px;text-align:center;">3</div>
<div style="left:144px;width:248px;top:126px;text-align:left;padding-left:2.5px;box-sizing:border-box;overflow:hidden;letter-spacing:0.071px;">Pacific Rim: Insurreccion</div>
<div style="left:392px;width:63px;top:126px;text-align:right;padding-right:2px;box-sizing:border-box;letter-spacing:-0.1px;"><b>1</b></div>
<div style="left:455px;width:80px;top:126px;text-align:right;padding-right:2px;box-sizing:border-box;letter-spacing:-0.1px;">3<b>1</b>3</div>
<i class="e" style="left:626px;top:131px"></i>
<div style="left:535px;width:101px;top:126px;text-align:right;padding-right:13.6px;box-sizing:border-box;letter-spacing:-0.1px;">889.642</div>
<i class="e" style="left:775px;top:131px"></i>
<div style="left:684px;width:101px;top:126px;text-align:right;padding-right:13.6px;box-sizing:border-box;letter-spacing:-0.1px;">889.642</div>
<div style="left:785px;width:86px;top:126px;text-align:right;padding-right:2px;box-sizing:border-box;letter-spacing:-0.1px;">2.842</div>
<div style="left:31px;width:48px;top:148px;text-align:center;">4</div>
<div style="left:79px;width:66px;top:148px;text-align:center;"><b>1</b></div>
<div style="left:144px;width:248px;top:148px;text-align:left;padding-left:2.5px;box-sizing:border-box;overflow:hidden;letter-spacing:0.0px;">Tomb Raider</div>
<div style="left:392px;width:63px;top:148px;text-align:right;padding-right:2px;box-sizing:border-box;letter-spacing:-0.1px;">2</div>
<div style="left:455px;width:80px;top:148px;text-align:right;padding-right:2px;box-sizing:border-box;letter-spacing:-0.1px;">3<b>1</b>3</div>
<i class="e" style="left:626px;top:153px"></i>
<div style="left:535px;width:101px;top:148px;text-align:right;padding-right:13.6px;box-sizing:border-box;letter-spacing:-0.1px;">632.533</div>
<div style="left:636px;width:48px;top:148px;text-align:right;padding-right:2px;box-sizing:border-box;color:#ff0000;">-46%</div>
<i class="e" style="left:775px;top:153px"></i>
<div style="left:684px;width:101px;top:148px;text-align:right;padding-right:13.6px;box-sizing:border-box;letter-spacing:-0.1px;">2.2<b>1</b>6.04<b>1</b></div>
<div style="left:785px;width:86px;top:148px;text-align:right;padding-right:2px;box-sizing:border-box;letter-spacing:-0.1px;">2.02<b>1</b></div>
<div style="left:31px;width:48px;top:170px;text-align:center;">5</div>
<div style="left:79px;width:66px;top:170px;text-align:center;">3</div>
<div style="left:144px;width:248px;top:170px;text-align:left;padding-left:2.5px;box-sizing:border-box;overflow:hidden;letter-spacing:-0.145px;">Gorrion Rojo</div>
<div style="left:392px;width:63px;top:170px;text-align:right;padding-right:2px;box-sizing:border-box;letter-spacing:-0.1px;">4</div>
<div style="left:455px;width:80px;top:170px;text-align:right;padding-right:2px;box-sizing:border-box;letter-spacing:-0.1px;">30<b>1</b></div>
<i class="e" style="left:626px;top:175px"></i>
<div style="left:535px;width:101px;top:170px;text-align:right;padding-right:13.6px;box-sizing:border-box;letter-spacing:-0.1px;">547.702</div>
<div style="left:636px;width:48px;top:170px;text-align:right;padding-right:2px;box-sizing:border-box;color:#ff0000;">-2<b>1</b>%</div>
<i class="e" style="left:775px;top:175px"></i>
<div style="left:684px;width:101px;top:170px;text-align:right;padding-right:13.6px;box-sizing:border-box;letter-spacing:-0.1px;">5.36<b>1</b>.829</div>
<div style="left:785px;width:86px;top:170px;text-align:right;padding-right:2px;box-sizing:border-box;letter-spacing:-0.1px;"><b>1</b>.820</div>
<div style="left:31px;width:48px;top:192px;text-align:center;">6</div>
<div style="left:79px;width:66px;top:192px;text-align:center;">4</div>
<div style="left:144px;width:248px;top:192px;text-align:left;padding-left:2.5px;box-sizing:border-box;overflow:hidden;letter-spacing:-0.035px;">Forma del agua, La</div>
<div style="left:392px;width:63px;top:192px;text-align:right;padding-right:2px;box-sizing:border-box;letter-spacing:-0.1px;">6</div>
<div style="left:455px;width:80px;top:192px;text-align:right;padding-right:2px;box-sizing:border-box;letter-spacing:-0.1px;">305</div>
<i class="e" style="left:626px;top:197px"></i>
<div style="left:535px;width:101px;top:192px;text-align:right;padding-right:13.6px;box-sizing:border-box;letter-spacing:-0.1px;">4<b>1</b>0.392</div>
<div style="left:636px;width:48px;top:192px;text-align:right;padding-right:2px;box-sizing:border-box;color:#ff0000;">-33%</div>
<i class="e" style="left:775px;top:197px"></i>
<div style="left:684px;width:101px;top:192px;text-align:right;padding-right:13.6px;box-sizing:border-box;letter-spacing:-0.1px;">8.538.8<b>1</b>9</div>
<div style="left:785px;width:86px;top:192px;text-align:right;padding-right:2px;box-sizing:border-box;letter-spacing:-0.1px;"><b>1</b>.346</div>
<div style="left:31px;width:48px;top:214px;text-align:center;">7</div>
<div style="left:79px;width:66px;top:214px;text-align:center;">7</div>
<div style="left:144px;width:248px;top:214px;text-align:left;padding-left:2.5px;box-sizing:border-box;overflow:hidden;letter-spacing:-0.078px;">Sin Rodeos</div>
<div style="left:392px;width:63px;top:214px;text-align:right;padding-right:2px;box-sizing:border-box;letter-spacing:-0.1px;">4</div>
<div style="left:455px;width:80px;top:214px;text-align:right;padding-right:2px;box-sizing:border-box;letter-spacing:-0.1px;">29<b>1</b></div>
<i class="e" style="left:626px;top:219px"></i>
<div style="left:535px;width:101px;top:214px;text-align:right;padding-right:13.6px;box-sizing:border-box;letter-spacing:-0.1px;">285.3<b>1</b>3</div>
<div style="left:636px;width:48px;top:214px;text-align:right;padding-right:2px;box-sizing:border-box;color:#ff0000;">-40%</div>
<i class="e" style="left:775px;top:219px"></i>
<div style="left:684px;width:101px;top:214px;text-align:right;padding-right:13.6px;box-sizing:border-box;letter-spacing:-0.1px;">3.879.<b>1</b>93</div>
<div style="left:785px;width:86px;top:214px;text-align:right;padding-right:2px;box-sizing:border-box;letter-spacing:-0.1px;">980</div>
<div style="left:31px;width:48px;top:236px;text-align:center;">8</div>
<div style="left:79px;width:66px;top:236px;text-align:center;">6</div>
<div style="left:144px;width:247px;top:236px;text-align:left;padding-left:2.5px;box-sizing:border-box;overflow:hidden;letter-spacing:0.08px;">Un pliegue en el tiempo (A Wrinkle in time)</div>
<div style="left:392px;width:63px;top:236px;text-align:right;padding-right:2px;box-sizing:border-box;letter-spacing:-0.1px;">3</div>
<div style="left:455px;width:80px;top:236px;text-align:right;padding-right:2px;box-sizing:border-box;letter-spacing:-0.1px;">29<b>1</b></div>
<i class="e" style="left:626px;top:241px"></i>
<div style="left:535px;width:101px;top:236px;text-align:right;padding-right:13.6px;box-sizing:border-box;letter-spacing:-0.1px;">280.4<b>1</b>7</div>
<div style="left:636px;width:48px;top:236px;text-align:right;padding-right:2px;box-sizing:border-box;color:#ff0000;">-4<b>1</b>%</div>
<i class="e" style="left:775px;top:241px"></i>
<div style="left:684px;width:101px;top:236px;text-align:right;padding-right:13.6px;box-sizing:border-box;letter-spacing:-0.1px;"><b>1</b>.803.545</div>
<div style="left:785px;width:86px;top:236px;text-align:right;padding-right:2px;box-sizing:border-box;letter-spacing:-0.1px;">964</div>
<div style="left:31px;width:48px;top:258px;text-align:center;">9</div>
<div style="left:144px;width:248px;top:258px;text-align:left;padding-left:2.5px;box-sizing:border-box;overflow:hidden;letter-spacing:0.225px;">Aviso, El</div>
<div style="left:392px;width:63px;top:258px;text-align:right;padding-right:2px;box-sizing:border-box;letter-spacing:-0.1px;"><b>1</b></div>
<div style="left:455px;width:80px;top:258px;text-align:right;padding-right:2px;box-sizing:border-box;letter-spacing:-0.1px;"><b>1</b>98</div>
<i class="e" style="left:626px;top:263px"></i>
<div style="left:535px;width:101px;top:258px;text-align:right;padding-right:13.6px;box-sizing:border-box;letter-spacing:-0.1px;">263.690</div>
<i class="e" style="left:775px;top:263px"></i>
<div style="left:684px;width:101px;top:258px;text-align:right;padding-right:13.6px;box-sizing:border-box;letter-spacing:-0.1px;">263.690</div>
<div style="left:785px;width:86px;top:258px;text-align:right;padding-right:2px;box-sizing:border-box;letter-spacing:-0.1px;"><b>1</b>.332</div>
<div style="left:31px;width:48px;top:280px;text-align:center;"><b>1</b>0</div>
<div style="left:79px;width:66px;top:280px;text-align:center;">5</div>
<div style="left:144px;width:248px;top:280px;text-align:left;padding-left:2.5px;box-sizing:border-box;overflow:hidden;letter-spacing:0.094px;">Hijo de Bigfoot, El</div>
<div style="left:392px;width:63px;top:280px;text-align:right;padding-right:2px;box-sizing:border-box;letter-spacing:-0.1px;">4</div>
<div style="left:455px;width:80px;top:280px;text-align:right;padding-right:2px;box-sizing:border-box;letter-spacing:-0.1px;">269</div>
<i class="e" style="left:626px;top:285px"></i>
<div style="left:535px;width:101px;top:280px;text-align:right;padding-right:13.6px;box-sizing:border-box;letter-spacing:-0.1px;">242.403</div>
<div style="left:636px;width:48px;top:280px;text-align:right;padding-right:2px;box-sizing:border-box;color:#ff0000;">-5<b>1</b>%</div>
<i class="e" style="left:775px;top:285px"></i>
<div style="left:684px;width:101px;top:280px;text-align:right;padding-right:13.6px;box-sizing:border-box;letter-spacing:-0.1px;">2.038.0<b>1</b>7</div>
<div style="left:785px;width:86px;top:280px;text-align:right;padding-right:2px;box-sizing:border-box;letter-spacing:-0.1px;">90<b>1</b></div>
<div style="left:31px;width:48px;top:302px;text-align:center;"><b>1</b><b>1</b></div>
<div style="left:79px;width:66px;top:302px;text-align:center;">8</div>
<div style="left:144px;width:248px;top:302px;text-align:left;padding-left:2.5px;box-sizing:border-box;overflow:hidden;letter-spacing:-0.127px;">Loving Pablo</div>
<div style="left:392px;width:63px;top:302px;text-align:right;padding-right:2px;box-sizing:border-box;letter-spacing:-0.1px;">3</div>
<div style="left:455px;width:80px;top:302px;text-align:right;padding-right:2px;box-sizing:border-box;letter-spacing:-0.1px;">229</div>
<i class="e" style="left:626px;top:307px"></i>
<div style="left:535px;width:101px;top:302px;text-align:right;padding-right:13.6px;box-sizing:border-box;letter-spacing:-0.1px;"><b>1</b>78.0<b>1</b>4</div>
<div style="left:636px;width:48px;top:302px;text-align:right;padding-right:2px;box-sizing:border-box;color:#ff0000;">-44%</div>
<i class="e" style="left:775px;top:307px"></i>
<div style="left:684px;width:101px;top:302px;text-align:right;padding-right:13.6px;box-sizing:border-box;letter-spacing:-0.1px;"><b>1</b>.44<b>1</b>.855</div>
<div style="left:785px;width:86px;top:302px;text-align:right;padding-right:2px;box-sizing:border-box;letter-spacing:-0.1px;">777</div>
<div style="left:31px;width:48px;top:324px;text-align:center;"><b>1</b>2</div>
<div style="left:79px;width:66px;top:324px;text-align:center;"><b>1</b><b>1</b></div>
<div style="left:144px;width:248px;top:324px;text-align:left;padding-left:2.5px;box-sizing:border-box;overflow:hidden;letter-spacing:0.158px;">Black Panther</div>
<div style="left:392px;width:63px;top:324px;text-align:right;padding-right:2px;box-sizing:border-box;letter-spacing:-0.1px;">6</div>
<div style="left:455px;width:80px;top:324px;text-align:right;padding-right:2px;box-sizing:border-box;letter-spacing:-0.1px;"><b>1</b>64</div>
<i class="e" style="left:626px;top:329px"></i>
<div style="left:535px;width:101px;top:324px;text-align:right;padding-right:13.6px;box-sizing:border-box;letter-spacing:-0.1px;"><b>1</b>73.098</div>
<div style="left:636px;width:48px;top:324px;text-align:right;padding-right:2px;box-sizing:border-box;color:#ff0000;">-35%</div>
<i class="e" style="left:775px;top:329px"></i>
<div style="left:684px;width:101px;top:324px;text-align:right;padding-right:13.6px;box-sizing:border-box;letter-spacing:-0.1px;">7.304.272</div>
<div style="left:785px;width:86px;top:324px;text-align:right;padding-right:2px;box-sizing:border-box;letter-spacing:-0.1px;"><b>1</b>.055</div>
<div style="left:31px;width:48px;top:346px;text-align:center;"><b>1</b>3</div>
<div style="left:79px;width:66px;top:346px;text-align:center;">9</div>
<div style="left:144px;width:248px;top:346px;text-align:left;padding-left:2.5px;box-sizing:border-box;overflow:hidden;letter-spacing:0.1px;">Winchester</div>
<div style="left:392px;width:63px;top:346px;text-align:right;padding-right:2px;box-sizing:border-box;letter-spacing:-0.1px;">3</div>
<div style="left:455px;width:80px;top:346px;text-align:right;padding-right:2px;box-sizing:border-box;letter-spacing:-0.1px;"><b>1</b>88</div>
<i class="e" style="left:626px;top:351px"></i>
<div style="left:535px;width:101px;top:346px;text-align:right;padding-right:13.6px;box-sizing:border-box;letter-spacing:-0.1px;"><b>1</b>62.632</div>
<div style="left:636px;width:48px;top:346px;text-align:right;padding-right:2px;box-sizing:border-box;color:#ff0000;">-47%</div>
<i class="e" style="left:775px;top:351px"></i>
<div style="left:684px;width:101px;top:346px;text-align:right;padding-right:13.6px;box-sizing:border-box;letter-spacing:-0.1px;"><b>1</b>.39<b>1</b>.09<b>1</b></div>
<div style="left:785px;width:86px;top:346px;text-align:right;padding-right:2px;box-sizing:border-box;letter-spacing:-0.1px;">865</div>
<div style="left:31px;width:48px;top:368px;text-align:center;"><b>1</b>4</div>
<div style="left:79px;width:66px;top:368px;text-align:center;"><b>1</b>0</div>
<div style="left:144px;width:248px;top:368px;text-align:left;padding-left:2.5px;box-sizing:border-box;overflow:hidden;letter-spacing:-0.1px;">Maria Magdalena</div>
<div style="left:392px;width:63px;top:368px;text-align:right;padding-right:2px;box-sizing:border-box;letter-spacing:-0.1px;">2</div>
<div style="left:455px;width:80px;top:368px;text-align:right;padding-right:2px;box-sizing:border-box;letter-spacing:-0.1px;">266</div>
<i class="e" style="left:626px;top:373px"></i>
<div style="left:535px;width:101px;top:368px;text-align:right;padding-right:13.6px;box-sizing:border-box;letter-spacing:-0.1px;"><b>1</b>5<b>1</b>.652</div>
<div style="left:636px;width:48px;top:368px;text-align:right;padding-right:2px;box-sizing:border-box;color:#ff0000;">-5<b>1</b>%</div>
<i class="e" style="left:775px;top:373px"></i>
<div style="left:684px;width:101px;top:368px;text-align:right;padding-right:13.6px;box-sizing:border-box;letter-spacing:-0.1px;">6<b>1</b>4.8<b>1</b>3</div>
<div style="left:785px;width:86px;top:368px;text-align:right;padding-right:2px;box-sizing:border-box;letter-spacing:-0.1px;">570</div>
<div style="left:31px;width:48px;top:390px;text-align:center;"><b>1</b>5</div>
<div style="left:79px;width:66px;top:390px;text-align:center;"><b>1</b>3</div>
<div style="left:144px;width:248px;top:390px;text-align:left;padding-left:2.5px;box-sizing:border-box;overflow:hidden;letter-spacing:-0.03px;">Tres anuncios en las afueras</div>
<div style="left:392px;width:63px;top:390px;text-align:right;padding-right:2px;box-sizing:border-box;letter-spacing:-0.1px;"><b>1</b><b>1</b></div>
<div style="left:455px;width:80px;top:390px;text-align:right;padding-right:2px;box-sizing:border-box;letter-spacing:-0.1px;">77</div>
<i class="e" style="left:626px;top:395px"></i>
<div style="left:535px;width:101px;top:390px;text-align:right;padding-right:13.6px;box-sizing:border-box;letter-spacing:-0.1px;">84.44<b>1</b></div>
<div style="left:636px;width:48px;top:390px;text-align:right;padding-right:2px;box-sizing:border-box;color:#ff0000;">-29%</div>
<i class="e" style="left:775px;top:395px"></i>
<div style="left:684px;width:101px;top:390px;text-align:right;padding-right:13.6px;box-sizing:border-box;letter-spacing:-0.1px;">5.985.722</div>
<div style="left:785px;width:86px;top:390px;text-align:right;padding-right:2px;box-sizing:border-box;letter-spacing:-0.1px;"><b>1</b>.097</div>
<div style="left:31px;width:48px;top:412px;text-align:center;"><b>1</b>6</div>
<div style="left:144px;width:248px;top:412px;text-align:left;padding-left:2.5px;box-sizing:border-box;overflow:hidden;letter-spacing:0.122px;">Pablo, Apostol de Cristo</div>
<div style="left:392px;width:63px;top:412px;text-align:right;padding-right:2px;box-sizing:border-box;letter-spacing:-0.1px;"><b>1</b></div>
<div style="left:455px;width:80px;top:412px;text-align:right;padding-right:2px;box-sizing:border-box;letter-spacing:-0.1px;">77</div>
<i class="e" style="left:626px;top:417px"></i>
<div style="left:535px;width:101px;top:412px;text-align:right;padding-right:13.6px;box-sizing:border-box;letter-spacing:-0.1px;">83.9<b>1</b>8</div>
<i class="e" style="left:775px;top:417px"></i>
<div style="left:684px;width:101px;top:412px;text-align:right;padding-right:13.6px;box-sizing:border-box;letter-spacing:-0.1px;">83.9<b>1</b>8</div>
<div style="left:785px;width:86px;top:412px;text-align:right;padding-right:2px;box-sizing:border-box;letter-spacing:-0.1px;"><b>1</b>.090</div>
<div style="left:31px;width:48px;top:434px;text-align:center;"><b>1</b>7</div>
<div style="left:144px;width:248px;top:434px;text-align:left;padding-left:2.5px;box-sizing:border-box;overflow:hidden;letter-spacing:0.133px;">Viaje de sus vidas, El</div>
<div style="left:392px;width:63px;top:434px;text-align:right;padding-right:2px;box-sizing:border-box;letter-spacing:-0.1px;"><b>1</b></div>
<div style="left:455px;width:80px;top:434px;text-align:right;padding-right:2px;box-sizing:border-box;letter-spacing:-0.1px;">6<b>1</b></div>
<i class="e" style="left:626px;top:439px"></i>
<div style="left:535px;width:101px;top:434px;text-align:right;padding-right:13.6px;box-sizing:border-box;letter-spacing:-0.1px;">80.323</div>
<i class="e" style="left:775px;top:439px"></i>
<div style="left:684px;width:101px;top:434px;text-align:right;padding-right:13.6px;box-sizing:border-box;letter-spacing:-0.1px;">80.323</div>
<div style="left:785px;width:86px;top:434px;text-align:right;padding-right:2px;box-sizing:border-box;letter-spacing:-0.1px;"><b>1</b>.3<b>1</b>7</div>
<div style="left:31px;width:48px;top:456px;text-align:center;"><b>1</b>8</div>
<div style="left:144px;width:248px;top:456px;text-align:left;padding-left:2.5px;box-sizing:border-box;overflow:hidden;letter-spacing:0.085px;">Casa junto al mar, La</div>
<div style="left:392px;width:63px;top:456px;text-align:right;padding-right:2px;box-sizing:border-box;letter-spacing:-0.1px;"><b>1</b></div>
<div style="left:455px;width:80px;top:456px;text-align:right;padding-right:2px;box-sizing:border-box;letter-spacing:-0.1px;">38</div>
<i class="e" style="left:626px;top:461px"></i>
<div style="left:535px;width:101px;top:456px;text-align:right;padding-right:13.6px;box-sizing:border-box;letter-spacing:-0.1px;">80.25<b>1</b></div>
<i class="e" style="left:775px;top:461px"></i>
<div style="left:684px;width:101px;top:456px;text-align:right;padding-right:13.6px;box-sizing:border-box;letter-spacing:-0.1px;">80.25<b>1</b></div>
<div style="left:785px;width:86px;top:456px;text-align:right;padding-right:2px;box-sizing:border-box;letter-spacing:-0.1px;">2.<b>1</b><b>1</b>2</div>
<div style="left:31px;width:48px;top:478px;text-align:center;"><b>1</b>9</div>
<div style="left:144px;width:248px;top:478px;text-align:left;padding-left:2.5px;box-sizing:border-box;overflow:hidden;letter-spacing:-0.06px;">Gringo</div>
<div style="left:392px;width:63px;top:478px;text-align:right;padding-right:2px;box-sizing:border-box;letter-spacing:-0.1px;"><b>1</b></div>
<div style="left:455px;width:80px;top:478px;text-align:right;padding-right:2px;box-sizing:border-box;letter-spacing:-0.1px;">82</div>
<i class="e" style="left:626px;top:483px"></i>
<div style="left:535px;width:101px;top:478px;text-align:right;padding-right:13.6px;box-sizing:border-box;letter-spacing:-0.1px;">57.870</div>
<i class="e" style="left:775px;top:483px"></i>
<div style="left:684px;width:101px;top:478px;text-align:right;padding-right:13.6px;box-sizing:border-box;letter-spacing:-0.1px;">57.870</div>
<div style="left:785px;width:86px;top:478px;text-align:right;padding-right:2px;box-sizing:border-box;letter-spacing:-0.1px;">706</div>
<div style="left:31px;width:48px;top:500px;text-align:center;">20</div>
<div style="left:79px;width:66px;top:500px;text-align:center;"><b>1</b>6</div>
<div style="left:144px;width:248px;top:500px;text-align:left;padding-left:2.5px;box-sizing:border-box;overflow:hidden;letter-spacing:-0.016px;">Cuaderno de Sara, El</div>
<div style="left:392px;width:63px;top:500px;text-align:right;padding-right:2px;box-sizing:border-box;letter-spacing:-0.1px;">8</div>
<div style="left:455px;width:80px;top:500px;text-align:right;padding-right:2px;box-sizing:border-box;letter-spacing:-0.1px;">60</div>
<i class="e" style="left:626px;top:505px"></i>
<div style="left:535px;width:101px;top:500px;text-align:right;padding-right:13.6px;box-sizing:border-box;letter-spacing:-0.1px;">53.330</div>
<div style="left:636px;width:48px;top:500px;text-align:right;padding-right:2px;box-sizing:border-box;color:#ff0000;">-39%</div>
<i class="e" style="left:775px;top:505px"></i>
<div style="left:684px;width:101px;top:500px;text-align:right;padding-right:13.6px;box-sizing:border-box;letter-spacing:-0.1px;">4.983.88<b>1</b></div>
<div style="left:785px;width:86px;top:500px;text-align:right;padding-right:2px;box-sizing:border-box;letter-spacing:-0.1px;">889</div>
<div style="left:31px;width:48px;top:522px;text-align:center;">2<b>1</b></div>
<div style="left:79px;width:66px;top:522px;text-align:center;"><b>1</b>2</div>
<div style="left:144px;width:248px;top:522px;text-align:left;padding-left:2.5px;box-sizing:border-box;overflow:hidden;letter-spacing:-0.038px;">Cincuenta Sombras Liberadas</div>
<div style="left:392px;width:63px;top:522px;text-align:right;padding-right:2px;box-sizing:border-box;letter-spacing:-0.1px;">7</div>
<div style="left:455px;width:80px;top:522px;text-align:right;padding-right:2px;box-sizing:border-box;letter-spacing:-0.1px;"><b>1</b><b>1</b>3</div>
<i class="e" style="left:626px;top:527px"></i>
<div style="left:535px;width:101px;top:522px;text-align:right;padding-right:13.6px;box-sizing:border-box;letter-spacing:-0.1px;">49.<b>1</b>28</div>
<div style="left:636px;width:48px;top:522px;text-align:right;padding-right:2px;box-sizing:border-box;color:#ff0000;">-60%</div>
<i class="e" style="left:775px;top:527px"></i>
<div style="left:684px;width:101px;top:522px;text-align:right;padding-right:13.6px;box-sizing:border-box;letter-spacing:-0.1px;"><b>1</b>2.<b>1</b>46.086</div>
<div style="left:785px;width:86px;top:522px;text-align:right;padding-right:2px;box-sizing:border-box;letter-spacing:-0.1px;">435</div>
<div style="left:31px;width:48px;top:544px;text-align:center;">22</div>
<div style="left:79px;width:66px;top:544px;text-align:center;"><b>1</b>7</div>
<div style="left:144px;width:248px;top:544px;text-align:left;padding-left:2.5px;box-sizing:border-box;overflow:hidden;letter-spacing:0.037px;">Lady Bird</div>
<div style="left:392px;width:63px;top:544px;text-align:right;padding-right:2px;box-sizing:border-box;letter-spacing:-0.1px;">5</div>
<div style="left:455px;width:80px;top:544px;text-align:right;padding-right:2px;box-sizing:border-box;letter-spacing:-0.1px;">7<b>1</b></div>
<i class="e" style="left:626px;top:549px"></i>
<div style="left:535px;width:101px;top:544px;text-align:right;padding-right:13.6px;box-sizing:border-box;letter-spacing:-0.1px;">43.<b>1</b>73</div>
<div style="left:636px;width:48px;top:544px;text-align:right;padding-right:2px;box-sizing:border-box;color:#ff0000;">-42%</div>
<i class="e" style="left:775px;top:549px"></i>
<div style="left:684px;width:101px;top:544px;text-align:right;padding-right:13.6px;box-sizing:border-box;letter-spacing:-0.1px;"><b>1</b>.444.38<b>1</b></div>
<div style="left:785px;width:86px;top:544px;text-align:right;padding-right:2px;box-sizing:border-box;letter-spacing:-0.1px;">608</div>
<div style="left:31px;width:48px;top:566px;text-align:center;">23</div>
<div style="left:79px;width:66px;top:566px;text-align:center;">20</div>
<div style="left:144px;width:248px;top:566px;text-align:left;padding-left:2.5px;box-sizing:border-box;overflow:hidden;letter-spacing:0.233px;">Coco</div>
<div style="left:392px;width:63px;top:566px;text-align:right;padding-right:2px;box-sizing:border-box;letter-spacing:-0.1px;"><b>1</b>7</div>
<div style="left:455px;width:80px;top:566px;text-align:right;padding-right:2px;box-sizing:border-box;letter-spacing:-0.1px;">90</div>
<i class="e" style="left:626px;top:571px"></i>
<div style="left:535px;width:101px;top:566px;text-align:right;padding-right:13.6px;box-sizing:border-box;letter-spacing:-0.1px;">38.993</div>
<div style="left:636px;width:48px;top:566px;text-align:right;padding-right:2px;box-sizing:border-box;color:#ff0000;">-39%</div>
<i class="e" style="left:775px;top:571px"></i>
<div style="left:684px;width:101px;top:566px;text-align:right;padding-right:13.6px;box-sizing:border-box;letter-spacing:-0.1px;"><b>1</b>7.368.078</div>
<div style="left:785px;width:86px;top:566px;text-align:right;padding-right:2px;box-sizing:border-box;letter-spacing:-0.1px;">433</div>
<div style="left:31px;width:48px;top:588px;text-align:center;">24</div>
<div style="left:79px;width:66px;top:588px;text-align:center;"><b>1</b>9</div>
<div style="left:144px;width:248px;top:588px;text-align:left;padding-left:2.5px;box-sizing:border-box;overflow:hidden;letter-spacing:0.032px;">Muerte de Stalin, La</div>
<div style="left:392px;width:63px;top:588px;text-align:right;padding-right:2px;box-sizing:border-box;letter-spacing:-0.1px;">3</div>
<div style="left:455px;width:80px;top:588px;text-align:right;padding-right:2px;box-sizing:border-box;letter-spacing:-0.1px;">43</div>
<i class="e" style="left:626px;top:593px"></i>
<div style="left:535px;width:101px;top:588px;text-align:right;padding-right:13.6px;box-sizing:border-box;letter-spacing:-0.1px;">35.<b>1</b>28</div>
<div style="left:636px;width:48px;top:588px;text-align:right;padding-right:2px;box-sizing:border-box;color:#ff0000;">-46%</div>
<i class="e" style="left:775px;top:593px"></i>
<div style="left:684px;width:101px;top:588px;text-align:right;padding-right:13.6px;box-sizing:border-box;letter-spacing:-0.1px;">273.579</div>
<div style="left:785px;width:86px;top:588px;text-align:right;padding-right:2px;box-sizing:border-box;letter-spacing:-0.1px;">8<b>1</b>7</div>
<div style="left:31px;width:48px;top:610px;text-align:center;">25</div>
<div style="left:79px;width:66px;top:610px;text-align:center;">2<b>1</b></div>
<div style="left:144px;width:248px;top:610px;text-align:left;padding-left:2.5px;box-sizing:border-box;overflow:hidden;letter-spacing:0.14px;">Insulto, El</div>
<div style="left:392px;width:63px;top:610px;text-align:right;padding-right:2px;box-sizing:border-box;letter-spacing:-0.1px;">2</div>
<div style="left:455px;width:80px;top:610px;text-align:right;padding-right:2px;box-sizing:border-box;letter-spacing:-0.1px;">36</div>
<i class="e" style="left:626px;top:615px"></i>
<div style="left:535px;width:101px;top:610px;text-align:right;padding-right:13.6px;box-sizing:border-box;letter-spacing:-0.1px;">33.269</div>
<div style="left:636px;width:48px;top:610px;text-align:right;padding-right:2px;box-sizing:border-box;color:#ff0000;">-3<b>1</b>%</div>
<i class="e" style="left:775px;top:615px"></i>
<div style="left:684px;width:101px;top:610px;text-align:right;padding-right:13.6px;box-sizing:border-box;letter-spacing:-0.1px;"><b>1</b>09.390</div>
<div style="left:785px;width:86px;top:610px;text-align:right;padding-right:2px;box-sizing:border-box;letter-spacing:-0.1px;">924</div>
<div style="left:144px;width:248px;top:632px;text-align:left;padding-left:2.5px;box-sizing:border-box;letter-spacing:-0.15px;">TOTAL</div>
<i class="e" style="left:626px;top:637px"></i>
<div style="left:535px;width:101px;top:632px;text-align:right;padding-right:13.6px;box-sizing:border-box;letter-spacing:-0.1px;">7.3<b>1</b><b>1</b>.639</div>
</body></html>
